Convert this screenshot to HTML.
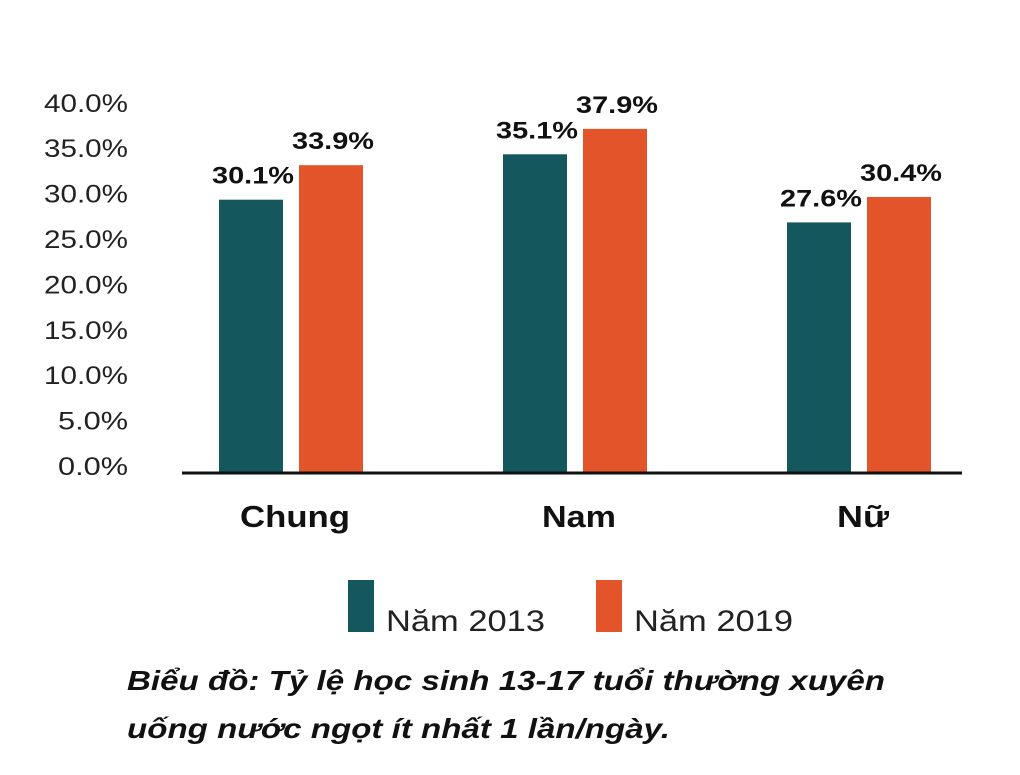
<!DOCTYPE html>
<html><head><meta charset="utf-8"><style>
body{margin:0;background:#fff;}
svg text{font-family:"Liberation Sans",sans-serif;}
</style></head><body>
<svg id="chart" width="1020" height="770" viewBox="0 0 1020 770" xmlns="http://www.w3.org/2000/svg">
<g id="yaxis"></g>
<g id="bars"></g>
<line x1="182" y1="473" x2="962" y2="473" stroke="#111" stroke-width="3"/>
<g>
<rect x="348" y="580" width="26" height="52" fill="#14585e"/>
<text x="386" y="631" font-size="30" textLength="159" lengthAdjust="spacingAndGlyphs" fill="#222">Năm 2013</text>
<rect x="596" y="580" width="26" height="52" fill="#e4542a"/>
<text x="634" y="631" font-size="30" textLength="159" lengthAdjust="spacingAndGlyphs" fill="#222">Năm 2019</text>
</g>
<text x="127" y="690" font-size="28" font-weight="bold" font-style="italic" textLength="758" lengthAdjust="spacingAndGlyphs" fill="#111">Biểu đồ: Tỷ lệ học sinh 13-17 tuổi thường xuyên</text>
<text x="127" y="738" font-size="28" font-weight="bold" font-style="italic" textLength="543" lengthAdjust="spacingAndGlyphs" fill="#111">uống nước ngọt ít nhất 1 lần/ngày.</text>
</svg>
<script>
const categories = ["Chung", "Nam", "Nữ"];
const values2013 = [30.1, 35.1, 27.6];
const values2019 = [33.9, 37.9, 30.4];
const yTicks = [0, 5, 10, 15, 20, 25, 30, 35, 40];

const NS = "http://www.w3.org/2000/svg";
const y0 = 473, pxPer = 9.08;
const y = v => y0 - v * pxPer;
const groupX = i => 219 + i * 284;
const barW = 64;

const yaxis = document.getElementById('yaxis');
yTicks.forEach(t => {
  const tx = document.createElementNS(NS, 'text');
  
  
  tx.setAttribute('x', 128); tx.setAttribute('y', y(t) + 2);
  tx.setAttribute('text-anchor', 'end'); tx.setAttribute('font-size', '25'); tx.setAttribute('fill', '#222');
  tx.textContent = t.toFixed(1) + '%';
  if (t >= 10) { tx.setAttribute('textLength', '84'); tx.setAttribute('lengthAdjust', 'spacingAndGlyphs'); }
  else { tx.setAttribute('textLength', '70'); tx.setAttribute('lengthAdjust', 'spacingAndGlyphs'); }
  yaxis.appendChild(tx);
});

const bars = document.getElementById('bars');
function addBar(x, v, color, name) {
  const r = document.createElementNS(NS, 'rect');
  
  
  r.setAttribute('x', x); r.setAttribute('y', y(v));
  r.setAttribute('width', barW); r.setAttribute('height', y0 - y(v));
  r.setAttribute('fill', color);
  bars.appendChild(r);
  const t = document.createElementNS(NS, 'text');
  
  
  t.setAttribute('x', x + barW / 2 + 2); t.setAttribute('y', y(v) - 16);
  t.setAttribute('text-anchor', 'middle'); t.setAttribute('font-size', '24');
  t.setAttribute('textLength', '82'); t.setAttribute('lengthAdjust', 'spacingAndGlyphs');
  t.setAttribute('font-weight', 'bold'); t.setAttribute('fill', '#111');
  t.textContent = v.toFixed(1) + '%';
  bars.appendChild(t);
}
const catWidths = [110, 74, 52];
categories.forEach((c, i) => {
  const gx = groupX(i);
  addBar(gx, values2013[i], '#14585e', 'bar-2013-' + i);
  addBar(gx + 80, values2019[i], '#e4542a', 'bar-2019-' + i);
  const l = document.createElementNS(NS, 'text');
  
  
  l.setAttribute('x', gx + 76); l.setAttribute('y', 527);
  l.setAttribute('text-anchor', 'middle'); l.setAttribute('font-size', '31');
  l.setAttribute('textLength', catWidths[i]); l.setAttribute('lengthAdjust', 'spacingAndGlyphs');
  l.setAttribute('font-weight', 'bold'); l.setAttribute('fill', '#111');
  l.textContent = c;
  bars.appendChild(l);
});
</script>
</body></html>
